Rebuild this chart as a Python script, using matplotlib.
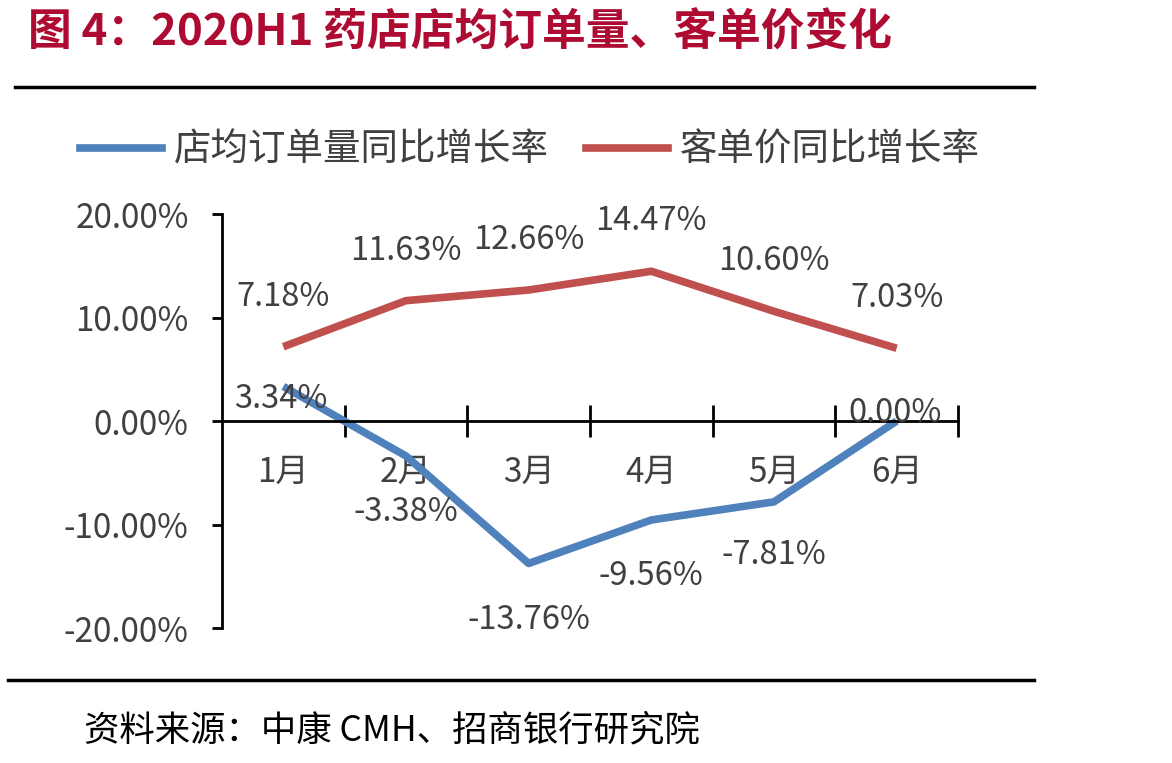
import matplotlib
matplotlib.use("Agg")
import matplotlib.pyplot as plt
from matplotlib.lines import Line2D

plt.rcParams['font.family'] = ['Noto Sans CJK SC', 'DejaVu Sans']

# data
months = ['1月', '2月', '3月', '4月', '5月', '6月']
orders_yoy = [3.34, -3.38, -13.76, -9.56, -7.81, 0.00]
price_yoy = [7.18, 11.63, 12.66, 14.47, 10.60, 7.03]
orders_name = '店均订单量同比增长率'
price_name = '客单价同比增长率'
yticks = [-20, -10, 0, 10, 20]

blue = '#4F81BD'
red = '#C0504D'
grey = '#404040'

fig = plt.figure(figsize=(11.72, 7.63), dpi=100)
ax = fig.add_axes([0.1894, 0.1769, 0.628, 0.5426])

x = list(range(len(months)))
ax.plot(x, orders_yoy, color=blue, lw=5.5, solid_capstyle='butt')
ax.plot(x, price_yoy, color=red, lw=5.5, solid_capstyle='butt')

# data labels (offsets in points)
for i, v in enumerate(price_yoy):
    ax.annotate(f'{v:.2f}%', (i, v), xytext=(0, 36), textcoords='offset points',
                ha='center', va='center', fontsize=23.5, color=grey)
blue_off = [(-2, -9), (0, 40), (0, 41), (0, 40), (0, 38), (-1, 6)]
for i, v in enumerate(orders_yoy):
    dx, dy = blue_off[i]
    if i in (1, 2, 3, 4):
        dy = -dy
    ax.annotate(f'{v:.2f}%', (i, v), xytext=(dx, dy), textcoords='offset points',
                ha='center', va='center', fontsize=23.5, color=grey)

ax.set_xlim(-0.5, 5.5)
ax.set_ylim(-20, 20)
ax.spines['top'].set_visible(False)
ax.spines['right'].set_visible(False)
ax.spines['bottom'].set_position(('data', 0))
ax.spines['bottom'].set_linewidth(2)
ax.spines['left'].set_linewidth(2)

ax.set_yticks(yticks)
ax.set_yticklabels([f'{t:.2f}%' for t in yticks])
ax.tick_params(axis='y', direction='out', length=7, width=2, labelsize=24,
               labelcolor=grey, pad=17)

ax.set_xticks(x)
ax.set_xticklabels(months)
ax.set_xticks([i + 0.5 for i in x], minor=True)
ax.tick_params(axis='x', which='major', length=0, labelsize=24, labelcolor=grey, pad=24)
ax.tick_params(axis='x', which='minor', direction='inout', length=23, width=2)

# legend
handles = [Line2D([], [], color=blue, lw=5.5), Line2D([], [], color=red, lw=5.5)]
fig.legend(handles, [orders_name, price_name], loc='center left',
           bbox_to_anchor=(0.068, 0.803), ncol=2, frameon=False, fontsize=27,
           handlelength=2.2, handletextpad=0.3, columnspacing=1.0,
           borderpad=0, borderaxespad=0, labelcolor=grey)

# title, rules, source
fig.text(0.024, 0.957, '图 4：2020H1 药店店均订单量、客单价变化', fontsize=31.5,
         fontweight='bold', color='#AE0B32', va='center', ha='left')
fig.add_artist(Line2D([0.013, 0.882], [0.886, 0.886], color='black', lw=2.5))
fig.add_artist(Line2D([0.007, 0.882], [0.109, 0.109], color='black', lw=2.5))
fig.text(0.072, 0.043, '资料来源：中康 CMH、招商银行研究院', fontsize=25.5,
         color='black', va='center', ha='left')

fig.savefig('out.png', dpi=100)
